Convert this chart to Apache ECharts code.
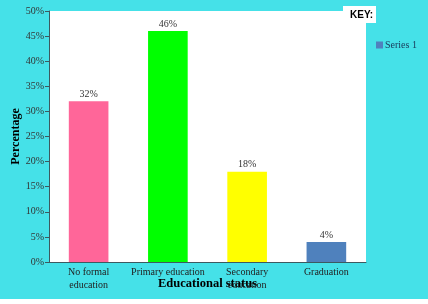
<!DOCTYPE html>
<html lang="en">
<head>
<meta charset="utf-8">
<title>Educational status</title>
<script src="https://cdn.jsdelivr.net/npm/echarts@6/dist/echarts.min.js"></script>
<style>
  html, body { margin: 0; padding: 0; background: #fff; }
  #main { width: 428px; height: 304px; }
</style>
</head>
<body>
<div id="main"></div>
<script type="text/javascript">
var categories = ['No formal\neducation', 'Primary education', 'Secondary\neducation', 'Graduation'];
var values = [32, 46, 18, 4];
var barColors = ['#FF6699', '#00FF00', '#FFFF00', '#4F81BD'];
var seriesName = 'Series 1';

var serif = '"Liberation Serif", "DejaVu Serif", serif';
var chart = echarts.init(document.getElementById('main'));

option = {
    animation: false,
    backgroundColor: '#fff',
    graphic: [
        // cyan page, white strip at the bottom
        { type: 'rect', left: 0, top: 0, shape: { width: 428, height: 299 }, style: { fill: '#45E1E8' }, z: -10 },
        // KEY box
        { type: 'rect', left: 343, top: 6, shape: { width: 33, height: 17 }, style: { fill: '#fff' }, z: 5 },
        { type: 'text', left: 350, top: 10, style: { text: 'KEY:', fill: '#000', font: 'bold 10px "Liberation Sans", Arial, sans-serif' }, z: 6 }
    ],
    legend: {
        data: [seriesName],
        left: 371,
        top: 35,
        itemWidth: 7,
        itemHeight: 7,
        itemGap: 2,
        icon: 'rect',
        textStyle: { fontFamily: serif, fontSize: 10, color: '#1a3a5a', padding: [0, 0, 0, -3] }
    },
    grid: {
        left: 49, right: 62, top: 11, bottom: 42,
        outerBoundsMode: 'none',
        containLabel: false,
        show: true, backgroundColor: '#fff', borderWidth: 0
    },
    xAxis: {
        type: 'category',
        data: categories,
        name: 'Educational status',
        nameLocation: 'middle',
        nameGap: 15,
        nameMoveOverlap: false,
        nameTextStyle: { fontFamily: serif, fontSize: 12.5, fontWeight: 'bold', color: '#000' },
        axisLine: { lineStyle: { color: '#3c5a60', width: 1 } },
        axisTick: { length: 4, lineStyle: { color: '#3c5a60' } },
        axisLabel: { fontFamily: serif, fontSize: 10, color: '#222', margin: 4, lineHeight: 13, interval: 0 }
    },
    yAxis: {
        type: 'value',
        min: 0, max: 50, interval: 5,
        name: 'Percentage',
        nameLocation: 'middle',
        nameGap: 27,
        nameMoveOverlap: false,
        nameTextStyle: { fontFamily: serif, fontSize: 12, fontWeight: 'bold', color: '#000' },
        splitLine: { show: false },
        axisLine: { show: true, lineStyle: { color: '#3c5a60', width: 1 } },
        axisTick: { show: true, length: 4, lineStyle: { color: '#3c5a60' } },
        axisLabel: { fontFamily: serif, fontSize: 10, color: '#333', margin: 5, formatter: '{value}%' }
    },
    series: [{
        name: seriesName,
        type: 'bar',
        barWidth: '50%',
        itemStyle: { color: '#4F81BD' },
        label: {
            show: true, position: 'top', distance: 2,
            fontFamily: serif, fontSize: 10, color: '#333',
            formatter: '{c}%'
        },
        data: values.map(function (v, i) {
            return { value: v, itemStyle: { color: barColors[i] } };
        })
    }]
};

chart.setOption(option);
</script>
</body>
</html>
